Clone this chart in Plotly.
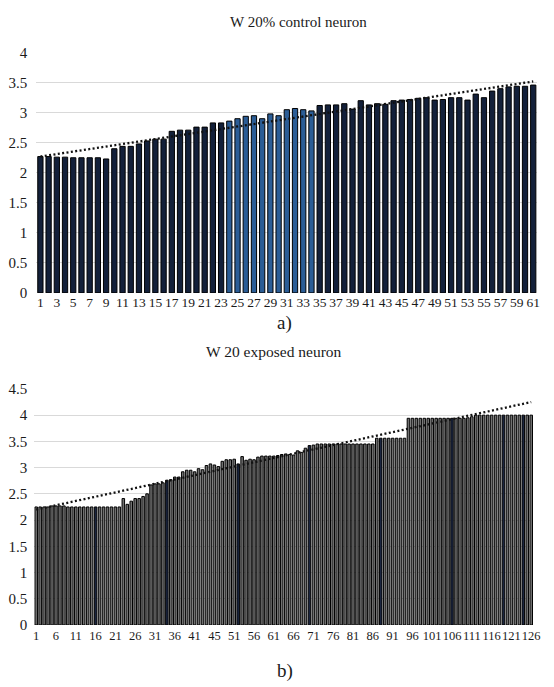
import plotly.graph_objects as go

# ---------------- data ----------------
control_categories = list(range(1, 62))
control_values = [
    2.27, 2.27, 2.26, 2.26, 2.25, 2.25, 2.25, 2.25, 2.23, 2.40,
    2.44, 2.44, 2.48, 2.53, 2.56, 2.56, 2.69, 2.71, 2.71, 2.76,
    2.76, 2.83, 2.83, 2.86, 2.90, 2.94, 2.95, 2.90, 2.98, 2.95,
    3.05, 3.07, 3.05, 3.03, 3.12, 3.13, 3.13, 3.15, 3.06, 3.20,
    3.13, 3.15, 3.14, 3.20, 3.21, 3.22, 3.24, 3.25, 3.21, 3.22,
    3.25, 3.25, 3.21, 3.31, 3.25, 3.36, 3.40, 3.43, 3.44, 3.44,
    3.46,
]
control_trend_x = [1, 61]
control_trend_y = [2.27, 3.52]
control_tick_labels = [1, 3, 5, 7, 9, 11, 13, 15, 17, 19, 21, 23, 25, 27, 29, 31,
                       33, 35, 37, 39, 41, 43, 45, 47, 49, 51, 53, 55, 57, 59, 61]
control_highlight = [24, 25, 26, 27, 28, 29, 30, 31, 32, 33, 34]

exposed_categories = list(range(1, 127))
exposed_values = [
    2.25, 2.25, 2.25, 2.25, 2.27, 2.27, 2.27, 2.27, 2.25, 2.25,
    2.25, 2.25, 2.25, 2.25, 2.25, 2.25, 2.25, 2.25, 2.25, 2.25,
    2.25, 2.25, 2.41, 2.30, 2.36, 2.41, 2.41, 2.45, 2.50, 2.67,
    2.69, 2.69, 2.71, 2.76, 2.77, 2.82, 2.82, 2.92, 2.95, 2.95,
    2.92, 2.98, 2.96, 3.04, 3.07, 3.05, 3.02, 3.12, 3.15, 3.15,
    3.16, 3.07, 3.21, 3.14, 3.16, 3.15, 3.20, 3.22, 3.22, 3.22,
    3.22, 3.23, 3.25, 3.26, 3.25, 3.24, 3.32, 3.29, 3.37, 3.42,
    3.43, 3.45, 3.45, 3.45, 3.45, 3.45, 3.45, 3.45, 3.45, 3.45,
    3.45, 3.45, 3.45, 3.45, 3.45, 3.45, 3.56, 3.56, 3.56, 3.56,
    3.56, 3.56, 3.56, 3.56, 3.94, 3.94, 3.94, 3.94, 3.94, 3.94,
    3.94, 3.94, 3.94, 3.94, 3.94, 3.94, 3.94, 3.94, 3.94, 3.95,
    3.97, 4.00, 4.00, 4.00, 4.00, 4.00, 4.00, 4.00, 4.00, 4.00,
    4.00, 4.00, 4.00, 4.00, 4.00, 4.00,
]
exposed_trend_x = [1, 126]
exposed_trend_y = [2.20, 4.25]
exposed_tick_vals = [1, 6, 11, 16, 21, 26, 31, 36, 41, 46, 51, 56, 61, 66, 71, 76,
                     81, 86, 91, 96, 101, 106, 111, 116, 121, 126]
exposed_tick_text = ["1", "6", "11", "16", "21", "26", "31", "36", "41", "45", "51",
                     "56", "61", "66", "71", "76", "81", "86", "91", "96", "101",
                     "106", "111", "116", "121", "126"]
exposed_highlight = [16, 34, 52, 70, 88, 106, 119, 124]

# ---------------- styling ----------------
W, H = 554, 687
FONT = "Liberation Serif, serif"
GRID = "#d9d9d9"
TXT = "#1a1a1a"


def px_x(p):
    return p / W


def px_y(p):
    return 1 - p / H


top_colors = ["#2b5d96" if c in control_highlight else "#13203a" for c in control_categories]
bot_colors = ["#1b2640" if c in exposed_highlight else "#707070" for c in exposed_categories]

fig = go.Figure()

fig.add_trace(go.Bar(
    x=control_categories, y=control_values, xaxis="x", yaxis="y",
    marker=dict(color=top_colors, line=dict(color="#000000", width=1)),
    showlegend=False, hoverinfo="x+y",
))
fig.add_trace(go.Scatter(
    x=control_trend_x, y=control_trend_y, xaxis="x", yaxis="y", mode="lines",
    line=dict(color="#111111", width=2.3, dash="2px,2.4px"), showlegend=False,
))
fig.add_trace(go.Bar(
    x=exposed_categories, y=exposed_values, xaxis="x2", yaxis="y2",
    marker=dict(color=bot_colors, line=dict(color="#000000", width=1)),
    showlegend=False, hoverinfo="x+y",
))
fig.add_trace(go.Scatter(
    x=exposed_trend_x, y=exposed_trend_y, xaxis="x2", yaxis="y2", mode="lines",
    line=dict(color="#111111", width=2.3, dash="2px,2.4px"), showlegend=False,
))

tickfont = dict(family=FONT, size=15, color=TXT)

fig.update_layout(
    width=W, height=H,
    margin=dict(l=0, r=0, t=0, b=0),
    paper_bgcolor="white", plot_bgcolor="white",
    bargap=0.36,
    showlegend=False,
    font=dict(family=FONT, color=TXT),
    xaxis=dict(
        domain=[px_x(35.8), px_x(544.2)], anchor="y",
        range=[0.5, 61.5], tickmode="array", tickvals=control_tick_labels,
        ticktext=[str(v) for v in control_tick_labels],
        tickfont=dict(family=FONT, size=13.5, color=TXT), tickangle=0,
        showgrid=False, zeroline=False, showline=False, ticks="",
        ticklabelstandoff=0,
    ),
    yaxis=dict(
        domain=[px_y(291.7), px_y(45.7)], anchor="x",
        range=[0, 4], tickmode="array", tickvals=[0, 0.5, 1, 1.5, 2, 2.5, 3, 3.5, 4],
        ticktext=["0", "0.5", "1", "1.5", "2", "2.5", "3", "3.5", "4"],
        tickfont=tickfont, showgrid=True, gridcolor=GRID, gridwidth=1,
        zeroline=False, showline=False, ticks="", ticklabelstandoff=8,
    ),
    xaxis2=dict(
        domain=[px_x(33.7), px_x(540.0)], anchor="y2",
        range=[0.5, 126.5], tickmode="array", tickvals=exposed_tick_vals,
        ticktext=exposed_tick_text, tickangle=0,
        tickfont=dict(family=FONT, size=12.5, color=TXT),
        showgrid=False, zeroline=False, showline=False, ticks="",
        ticklabelstandoff=2,
    ),
    yaxis2=dict(
        domain=[px_y(631.7), px_y(390.0)], anchor="x2",
        range=[0, 4.5], tickmode="array",
        tickvals=[0, 0.5, 1, 1.5, 2, 2.5, 3, 3.5, 4, 4.5],
        ticktext=["0", "0.5", "1", "1.5", "2", "2.5", "3", "3.5", "4", "4.5"],
        tickfont=tickfont, showgrid=True, gridcolor=GRID, gridwidth=1,
        zeroline=False, showline=False, ticks="", ticklabelstandoff=6,
    ),
    annotations=[
        dict(text="W 20% control neuron", x=px_x(302), y=px_y(14), xref="paper", yref="paper",
             xanchor="center", yanchor="middle", showarrow=False,
             font=dict(family=FONT, size=15, color=TXT)),
        dict(text="a)", x=px_x(288), y=px_y(323), xref="paper", yref="paper",
             xanchor="center", yanchor="middle", showarrow=False,
             font=dict(family=FONT, size=19, color=TXT)),
        dict(text="W 20 exposed neuron", x=px_x(277), y=px_y(352), xref="paper", yref="paper",
             xanchor="center", yanchor="middle", showarrow=False,
             font=dict(family=FONT, size=15.5, color=TXT)),
        dict(text="b)", x=px_x(288), y=px_y(679), xref="paper", yref="paper",
             xanchor="center", yanchor="middle", showarrow=False,
             font=dict(family=FONT, size=19, color=TXT)),
    ],
)

fig.write_html("out.html")
